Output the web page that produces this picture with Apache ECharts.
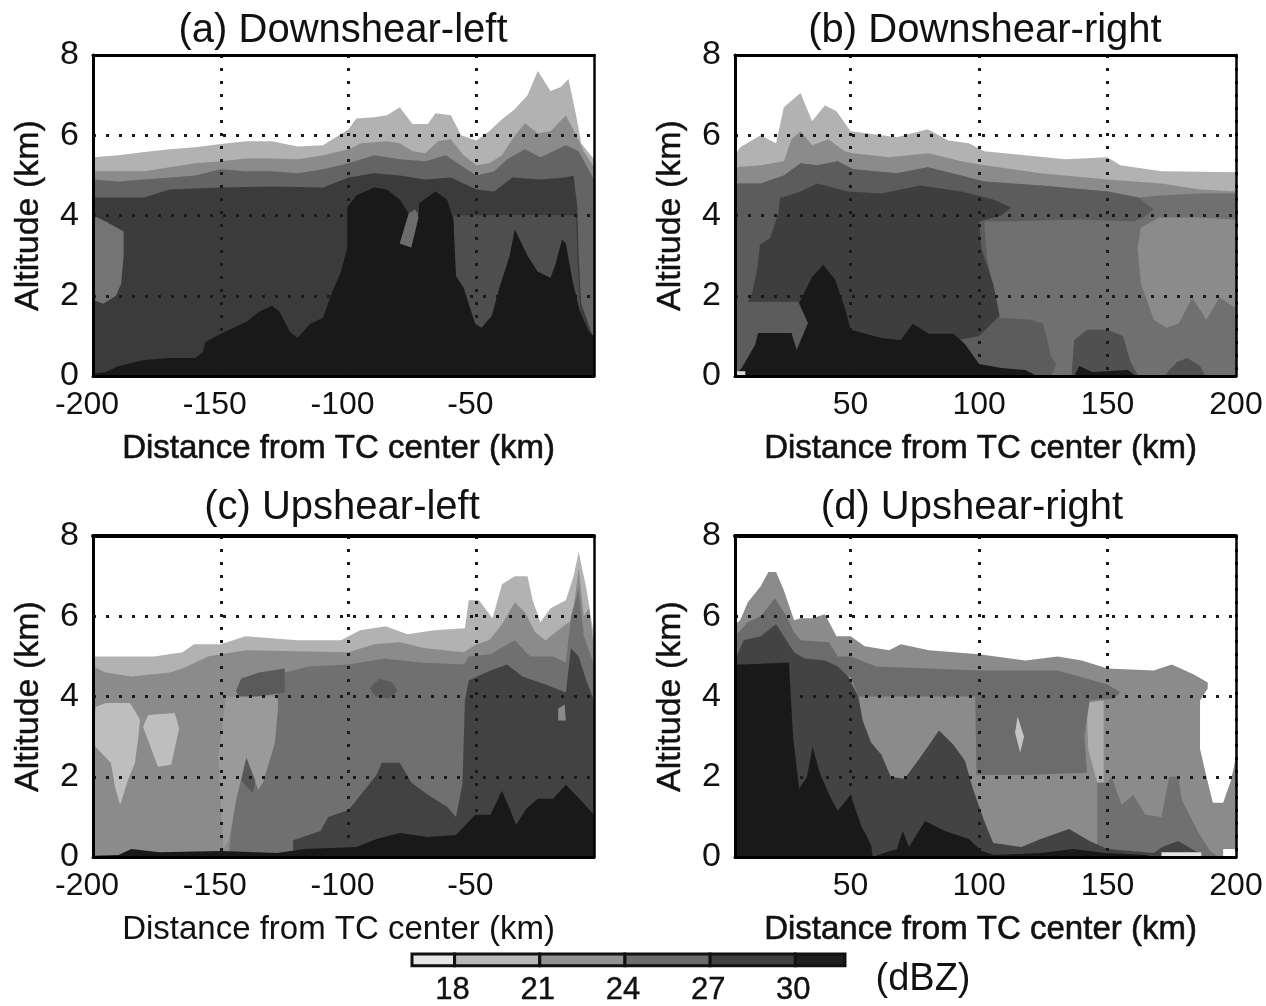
<!DOCTYPE html>
<html><head><meta charset="utf-8">
<script src="https://cdn.jsdelivr.net/npm/echarts@6/dist/echarts.min.js"></script>
<style>html,body{margin:0;padding:0;background:#fff}#c{width:1266px;height:1006px;filter:blur(0.6px)}</style>
</head><body><div id="c"></div>
<script>
// ---------- tick labels / categories ----------
const xTicksLeft=[-200,-150,-100,-50];
const xTicksRight=[50,100,150,200];
const titles=['(a) Downshear-left','(b) Downshear-right','(c) Upshear-left','(d) Upshear-right'];
const cbEdges=[16.5,18,21,24,27,30,31.75];
const cbGreys=['#e6e6e6','#b8b8b8','#929292','#6c6c6c','#404040','#1e1e1e'];
const cbTicks=[18,21,24,27,30];

// ---------- panel (a) contours [km, altitude] ----------
const a18=[[-200,5.45],[-190,5.5],[-180,5.58],[-170,5.65],[-160,5.7],[-150,5.78],[-140,5.85],[-130,5.85],[-120,5.72],[-110,5.75],[-105,5.95],[-100,6.15],[-97,6.42],[-90,6.45],[-85,6.5],[-80,6.7],[-75,6.28],[-69,6.28],[-66,6.55],[-60,6.5],[-56,6.0],[-50,5.87],[-45,6.1],[-40,6.4],[-35,6.65],[-30,7.0],[-26,7.6],[-21,7.1],[-17,7.2],[-14,7.4],[-11,6.5],[-9,5.8],[-4,5.4]];
const a21=[[-200,5.1],[-180,5.1],[-170,5.2],[-160,5.3],[-150,5.35],[-140,5.42],[-130,5.42],[-120,5.4],[-110,5.5],[-100,5.65],[-95,5.8],[-85,5.85],[-80,5.8],[-75,5.6],[-70,5.55],[-65,5.85],[-60,5.9],[-55,5.5],[-50,5.25],[-45,5.3],[-40,5.5],[-36,5.9],[-31,6.3],[-26,6.05],[-21,6.1],[-15,6.5],[-11,6.0],[-8,5.6],[-4,5.2]];
const a24=[[-200,4.9],[-190,4.85],[-180,4.9],[-170,4.95],[-160,5.0],[-150,5.15],[-140,5.1],[-130,5.1],[-120,5.05],[-110,5.15],[-100,5.3],[-90,5.5],[-80,5.4],[-70,5.35],[-62,5.5],[-55,5.2],[-50,5.0],[-43,5.1],[-38,5.4],[-31,5.65],[-25,5.45],[-15,5.75],[-10,5.6],[-4,4.9]];
const a27=[[-200,4.45],[-180,4.45],[-170,4.65],[-150,4.7],[-130,4.72],[-110,4.7],[-100,4.95],[-90,5.05],[-80,5.0],[-70,4.9],[-60,4.95],[-50,4.65],[-43,4.6],[-36,4.95],[-25,4.9],[-15,4.95],[-12,5.0],[-10.5,4.2],[-10,3.0],[-9,1.8],[-4,0.9]];
const a33=[[-200,0.05],[-195,0.1],[-190,0.25],[-180,0.4],[-170,0.45],[-160,0.45],[-157,0.6],[-156,0.85],[-150,1.05],[-140,1.35],[-135,1.6],[-130,1.75],[-127,1.6],[-123,1.1],[-120,0.95],[-115,1.3],[-110,1.45],[-107,2.0],[-103,2.6],[-100.5,3.2],[-100.5,4.2],[-97,4.5],[-90,4.7],[-85,4.65],[-80,4.4],[-76.5,4.05],[-80,3.3],[-75.5,3.2],[-72.5,4.0],[-72.5,4.3],[-66,4.6],[-61.5,4.4],[-59,3.9],[-58,2.5],[-55,2.2],[-50.5,1.3],[-48,1.2],[-44,1.5],[-41,2.2],[-37,3.0],[-35,3.65],[-30,3.0],[-26,2.6],[-21,2.45],[-19,2.8],[-16.5,3.4],[-15,3.3],[-12.5,2.4],[-9.5,1.6],[-6,1.1],[-4,1.0]];
const aPatch=[[-200,4.0],[-195,3.85],[-188,3.6],[-188,3.0],[-189,2.3],[-191,2.0],[-196,1.8],[-200,1.9]];
const aRight=[[-59,4.0],[-30,4.02],[-11,4.0],[-10.5,3.0],[-9.5,1.8],[-9.5,0.8],[-59,0.8]];
const aNotch=[[-76.5,4.05],[-80,3.3],[-75.5,3.2],[-72.5,4.0],[-74,4.15]];

// ---------- panel (b) contours ----------
const b18=[[5,5.5],[7,5.7],[15,6.0],[21,5.8],[24,6.7],[30.5,7.05],[35,6.35],[40,6.75],[44.5,6.6],[50,6.1],[62,6.0],[68,5.95],[80,6.15],[88,5.87],[96,5.8],[102,5.6],[118,5.5],[133.6,5.4],[150,5.45],[155,5.25],[171,5.1],[200,5.08]];
const b21=[[5,5.2],[15,5.25],[24,5.35],[27,5.9],[30.5,6.1],[35,5.75],[41.4,5.9],[47.6,5.6],[51,5.55],[65,5.45],[80.5,5.55],[93,5.35],[102,5.25],[124,5.05],[150,4.9],[171,4.8],[186,4.65],[200,4.6]];
const b24=[[5,4.8],[15,4.8],[24,5.0],[30.5,5.3],[37,5.25],[45,5.35],[51,5.15],[68,5.05],[80,5.2],[93,5.0],[102,4.85],[124,4.75],[150,4.6],[162,4.45],[170,4.5],[186,4.55],[200,4.55]];
const b27=[[5,0],[5,4.8],[15,4.8],[24,5.0],[30.5,5.3],[37,5.25],[45,5.35],[51,5.15],[68,5.05],[80,5.2],[93,5.0],[102,4.85],[124,4.75],[150,4.6],[162,4.45],[168,4.15],[164,3.95],[160,3.85],[140,3.9],[110,3.85],[102,3.85],[103,3.0],[106,2.0],[108,1.45],[120,1.4],[125,1.3],[128,0.5],[130,0.3],[128,0]];
const b30=[[22.5,4.43],[30.5,4.6],[37,4.8],[49,4.6],[62,4.55],[77,4.75],[93,4.6],[105.5,4.4],[112.5,4.2],[108.6,4.0],[100,3.85],[101,3.15],[105.5,2.3],[108,1.5],[100,1.0],[60,0.5],[33.4,1.32],[29.5,1.85],[10,1.85],[11.7,2.07],[13.6,2.65],[14.7,3.27],[18.6,3.43],[21.9,4.06]];
const b33=[[5,0.03],[7.6,0.2],[12.8,0.77],[14,1.07],[27,1.07],[29,0.65],[33.4,1.32],[30,1.82],[35,2.47],[39.3,2.77],[44,2.4],[48,1.65],[50,1.15],[62,0.95],[69.5,0.9],[74.2,1.3],[80.5,1.05],[90,1.05],[94.5,0.8],[100,0.3],[108.6,0.2],[118,0.15],[122.5,0],[137,0],[139,0.25],[144,0.1],[158,0.15],[161,0],[200,0]];
const bBlock=[[136,0],[137,0.9],[142,1.15],[150,1.15],[156,1.0],[159,0.35],[162,0]];
const bRightPatch=[[161.7,3.2],[163,3.7],[170,3.95],[185,3.95],[200,3.9],[200,1.7],[193.5,1.95],[188.5,1.4],[183,1.95],[177.6,1.3],[173,1.2],[168,1.4],[163,2.3]];
const bBump=[[172,0],[177,0.35],[181,0.45],[186,0.25],[188,0]];
const bSpeck=[[5,0],[5,0.12],[9,0.12],[9,0]];

// ---------- panel (c) contours ----------
const c18=[[-200,5.0],[-176,5.0],[-165,5.1],[-160.5,5.3],[-150,5.3],[-140.4,5.5],[-120,5.4],[-103,5.4],[-95.5,5.65],[-85.5,5.75],[-77,5.55],[-66.6,5.65],[-54.5,5.7],[-53,6.4],[-49,6.4],[-43.7,5.95],[-40,6.8],[-35,7.0],[-30,7.0],[-28,6.4],[-25,5.85],[-21,6.2],[-15,6.4],[-12,7.0],[-10,7.6],[-7,6.7],[-4,5.5]];
const c21=[[-200,4.75],[-195,4.6],[-185,4.5],[-170,4.6],[-165,4.7],[-155,5.0],[-150,5.05],[-140,5.15],[-100,5.1],[-90,5.3],[-80,5.35],[-70,5.2],[-55,5.1],[-50,5.3],[-45,5.4],[-40,5.8],[-35,6.35],[-31,6.1],[-27,5.6],[-23,5.4],[-19,5.6],[-15,5.8],[-12.5,5.9],[-10,7.2],[-8,6.0],[-6,6.2],[-4,5.2]];
const c24=[[-147,0],[-146,0.6],[-144,1.42],[-140,2.47],[-135.4,1.67],[-133.5,1.85],[-128.8,2.84],[-127.6,3.74],[-128,4.55],[-115.7,4.75],[-100,4.8],[-86,4.95],[-72,4.85],[-55,4.8],[-53,5.0],[-44.5,5.05],[-35,5.4],[-29,5.0],[-20,5.0],[-15,4.85],[-13,6.0],[-10,6.7],[-8,5.5],[-4,4.8]];
const c27=[[-121.7,0.42],[-111,0.65],[-108,1.0],[-100,1.17],[-89,2.05],[-87,2.35],[-80,2.35],[-75.4,1.85],[-69,1.55],[-61.5,1.25],[-58,1.0],[-55.5,1.8],[-55,2.8],[-54.5,3.9],[-53,4.4],[-44.5,4.65],[-38,4.8],[-32,4.5],[-23,4.3],[-15,4.1],[-13,5.2],[-10,5.0],[-7,4.4],[-4,3.9]];
const c33=[[-200,0.03],[-190,0.05],[-185,0.2],[-174,0.12],[-150,0.15],[-128,0.1],[-117,0.2],[-97,0.25],[-89,0.45],[-80,0.6],[-69,0.5],[-58,0.55],[-55,0.75],[-50.5,1.05],[-44.5,1.05],[-40,1.65],[-37,1.2],[-34.5,0.8],[-30.5,1.2],[-26,1.45],[-20,1.45],[-15,1.8],[-9,1.4],[-4,1.05]];
const cPatch1=[[-199,3.74],[-195,3.84],[-185.5,3.84],[-181.6,3.42],[-182.4,2.92],[-183.6,2.34],[-186.3,1.92],[-189.4,1.3],[-191.4,1.75],[-193,2.34],[-199,2.74],[-200,3.0]];
const cPatch2=[[-178.5,3.54],[-168,3.59],[-166.3,3.2],[-169.4,2.3],[-174.6,2.25],[-180.4,3.24]];
const cPatch3=[[-148,4.0],[-128,4.0],[-127,3.74],[-128.8,2.84],[-133.5,1.85],[-135.4,1.67],[-140,2.47],[-144,1.42],[-147,0.42],[-149,0.2],[-151,2.5]];
const cWedge=[[-140,2.47],[-142,1.9],[-137.5,1.6],[-136.5,1.9]];
const cBlob1=[[-144,4.15],[-142,4.45],[-135,4.6],[-125,4.7],[-125,4.1],[-136,4.0],[-143,4.0]];
const cBlob2=[[-91.7,4.2],[-88,4.45],[-83,4.35],[-81,4.15],[-84,3.95],[-89.5,4.0]];
const cSpeck=[[-18,3.7],[-15.5,3.8],[-15,3.4],[-18,3.4]];

// ---------- panel (d) contours ----------
const d21=[[5,5.8],[7,5.9],[10,6.35],[15,6.75],[18,7.1],[21,7.1],[24,6.65],[28,5.9],[30.5,5.95],[35,5.95],[40,6.05],[44.5,5.5],[50,5.5],[55.5,5.25],[65,5.15],[69.5,5.3],[80.5,5.15],[100,5.05],[118,4.9],[130.6,5.0],[140,4.9],[150,4.7],[168,4.65],[175,4.8],[183.6,4.55],[189,4.35],[189,4.2],[186,3.9],[186,2.7],[188.5,2.0],[191,1.35],[195,1.35],[198,1.9],[200,2.5]];
const d24=[[5,5.0],[5,5.5],[10,5.85],[15,6.0],[20.5,6.45],[25,6.0],[28,5.6],[30.5,5.4],[41.5,5.35],[45,5.0],[50,5.0],[60,4.75],[100,4.65],[130.6,4.65],[150,4.3],[155,4.1],[152.5,3.95],[143,3.9],[141,3.0],[142,2.1],[120,2.05],[99,2.05],[98.5,4.0],[53,4.0],[50,4.5],[30,4.5]];
const dHumps=[[146,0],[146,1.85],[150,1.85],[151.5,2.0],[155.5,1.3],[160,1.55],[164.7,1.05],[171,1.0],[174,2.0],[177.5,2.0],[179,1.4],[185.5,0.6],[190,0.15],[193,0]];
const dLight=[[142,3.5],[143,3.85],[148.5,3.9],[148.5,1.85],[146,1.85],[142.5,2.67]];
const d27=[[5,4.9],[8.3,5.4],[15,5.5],[21,5.8],[26,5.3],[28,5.1],[32,4.95],[40,4.9],[45,4.75],[49,4.5],[53,4.0],[54.7,3.4],[58,2.85],[62,2.55],[65.6,2.0],[71,1.95],[77.3,2.5],[84.4,3.15],[90,2.8],[94.5,2.4],[97.6,1.7],[102,0.9],[105.5,0.35],[116.5,0.25],[124,0.45],[135,0.7],[143,0.4],[150,0.2],[168,0.1],[171.3,0.25],[177.5,0.4],[185.5,0.1],[187,0],[200,0]];
const d33=[[5,4.8],[8.3,4.8],[26,4.85],[27.6,3.0],[30,1.7],[33,2.0],[35.2,2.75],[38,2.1],[42,1.5],[45,1.15],[50,1.55],[54,0.8],[58,0.3],[58.6,0],[63,0.1],[68,0.2],[70.3,0.65],[72.7,0.25],[79,0.9],[86.7,0.65],[96,0.45],[101,0.15],[105.5,0.05],[124,0.1],[136.6,0.2],[149,0.1],[164.7,0.05],[168,0],[200,0]];
const dSpeck=[[115,3.5],[117.5,3.0],[116,2.6],[114,3.1]];
const dWhite1=[[171,0],[171,0.12],[186.5,0.12],[186.5,0]];
const dWhite2=[[195,0],[195,0.2],[200,0.2],[200,0]];

// ---------- drawing lists: [kind, points, grey] in painter's order ----------
const G={g18:'#b2b2b2',g21:'#8b8b8b',g24:'#707070',g27:'#5c5c5c',g30:'#3e3e3e',g33:'#191919'};
const panels=[
 {layers:[['area',a18,G.g18],['area',a21,G.g21],['area',a24,'#646464'],['area',a27,'#3b3b3b'],['patch',aRight,'#4e4e4e'],['patch',aPatch,'#747474'],['area',a33,G.g33],['patch',aNotch,'#6c6c6c']]},
 {layers:[['area',b18,G.g18],['area',b21,G.g21],['area',b24,G.g24],['patch',b27,G.g27],['patch',bRightPatch,G.g21],['patch',b30,G.g30],['patch',bBlock,'#505050'],['patch',bBump,'#505050'],['area',b33,G.g33],['patch',bSpeck,'#d8d8d8']]},
 {layers:[['area',c18,G.g18],['area',c21,G.g21],['patch',cPatch1,'#bebebe'],['patch',cPatch2,'#bebebe'],['patch',cPatch3,'#9a9a9a'],['area',c24,G.g24],['patch',cWedge,'#585858'],['patch',cBlob1,'#5a5a5a'],['patch',cBlob2,'#5a5a5a'],['area',c27,'#424242'],['patch',cSpeck,'#8a8a8a'],['area',c33,G.g33]]},
 {layers:[['area',d21,G.g21],['patch',dLight,'#adadad'],['patch',d24,'#6c6c6c'],['patch',dHumps,'#707070'],['area',d27,'#434343'],['patch',dSpeck,'#c4c4c4'],['area',d33,G.g33],['patch',dWhite1,'#e2e2e2'],['patch',dWhite2,'#ffffff']]}
];
const boxes=[[93,55],[735,55],[93,536],[735,536]];
const titlePos=[[338,6],[980,6],[337,483],[967,483]];
const font='"Liberation Sans", Arial, sans-serif';
const ink='#111';

const option={animation:false,backgroundColor:'#fff',title:[],grid:[],xAxis:[],yAxis:[],series:[]};
let order=10;
panels.forEach((p,i)=>{
  const right=i%2===1, ticks=right?xTicksRight:xTicksLeft;
  const [gx,gy]=boxes[i];
  option.title.push({text:titles[i],left:titlePos[i][0],top:titlePos[i][1],textAlign:'center',
    textStyle:{fontFamily:font,fontSize:40,fontWeight:'normal',color:ink}});
  option.grid.push({left:gx,top:gy,width:501,height:321,show:false});
  const xmin=right?5:-200,xmax=right?200:-4;
  const dots={show:true,lineStyle:{color:'#1a1a1a',width:3,type:[3,10]}};
  option.xAxis.push({type:'value',gridIndex:i,min:xmin,max:xmax,z:500,position:'bottom',
    name:'Distance from TC center (km)',nameLocation:'middle',nameGap:56,nameMoveOverlap:false,
    nameTextStyle:{fontFamily:font,fontSize:33,color:ink,padding:[0,10,0,0],textBorderColor:ink,textBorderWidth:i===2?0:0.6},
    axisLine:{show:true,onZero:false,lineStyle:{color:'#000',width:3}},
    axisTick:{show:false,customValues:ticks},
    axisLabel:{customValues:ticks,margin:13,fontFamily:font,fontSize:32,color:ink,hideOverlap:false,padding:[0,right?0:12,0,0]},
    splitLine:dots});
  option.yAxis.push({type:'value',gridIndex:i,min:0,max:8,interval:2,z:500,position:'left',
    name:'Altitude (km)',nameLocation:'middle',nameGap:47,nameMoveOverlap:false,
    nameTextStyle:{fontFamily:font,fontSize:34,color:ink,textBorderColor:ink,textBorderWidth:0.4},
    axisLine:{show:true,onZero:false,lineStyle:{color:'#000',width:3}},
    axisTick:{show:false},
    axisLabel:{margin:14,fontFamily:font,fontSize:34,color:ink,formatter:v=>String(v)},
    splitLine:dots});
  option.xAxis.push({type:'value',gridIndex:i,min:xmin,max:xmax,z:500,position:'top',
    axisLine:{show:true,onZero:false,lineStyle:{color:'#000',width:i>=2?4:3}},axisTick:{show:false},axisLabel:{show:false},splitLine:{show:false}});
  option.yAxis.push({type:'value',gridIndex:i,min:0,max:8,z:500,position:'right',
    axisLine:{show:true,onZero:false,lineStyle:{color:'#000',width:2.5}},axisTick:{show:false},axisLabel:{show:false},splitLine:{show:false}});
  const xi=option.xAxis.length-2,yi=option.yAxis.length-2;
  p.layers.forEach(([kind,pts,color])=>{
    order++;
    if(kind==='area'){
      option.series.push({type:'line',xAxisIndex:xi,yAxisIndex:yi,z:order,data:pts,showSymbol:false,symbol:'none',silent:true,
        lineStyle:{width:0,opacity:0},areaStyle:{color:color,opacity:1,origin:'start'},smooth:false});
    }else{
      option.series.push({type:'custom',coordinateSystem:'cartesian2d',xAxisIndex:xi,yAxisIndex:yi,z:order,data:pts,silent:true,
        encode:{x:0,y:1},
        renderItem:function(params,api){
          if(params.dataIndex!==0)return {type:'group',children:[]};
          return {type:'polygon',shape:{points:pts.map(q=>api.coord(q))},style:{fill:color}};
        }});
    }
  });
});
// colour bar
option.title.push({text:'(dBZ)',left:918,top:956,textAlign:'center',textStyle:{fontFamily:font,fontSize:38,fontWeight:'normal',color:ink}});
option.grid.push({left:412,top:954,width:433,height:13,show:false});
const cbi=option.grid.length-1;
option.xAxis.push({type:'value',gridIndex:cbi,min:cbEdges[0],max:cbEdges[cbEdges.length-1],
  axisLine:{show:false},axisTick:{show:false,customValues:cbTicks},splitLine:{show:false},
  axisLabel:{customValues:cbTicks,margin:9,fontFamily:font,fontSize:31,color:ink,padding:[0,4,0,0],textBorderColor:ink,textBorderWidth:0.4}});
option.yAxis.push({type:'value',gridIndex:cbi,min:0,max:1,show:false});
const cbXi=option.xAxis.length-1,cbYi=option.yAxis.length-1;
option.series.push({type:'custom',xAxisIndex:cbXi,yAxisIndex:cbYi,clip:false,silent:true,
  data:cbGreys.map((c,k)=>[cbEdges[k],cbEdges[k+1],k]),encode:{x:[0,1]},
  renderItem:function(params,api){
    const a=api.coord([api.value(0),0]),b=api.coord([api.value(1),1]);
    return {type:'rect',shape:{x:a[0],y:b[1],width:b[0]-a[0],height:a[1]-b[1]},
      style:{fill:cbGreys[api.value(2)],stroke:'#111',lineWidth:3}};
  }});
const chart=echarts.init(document.getElementById('c'),null,{renderer:'canvas'});
chart.setOption(option);
</script></body></html>
